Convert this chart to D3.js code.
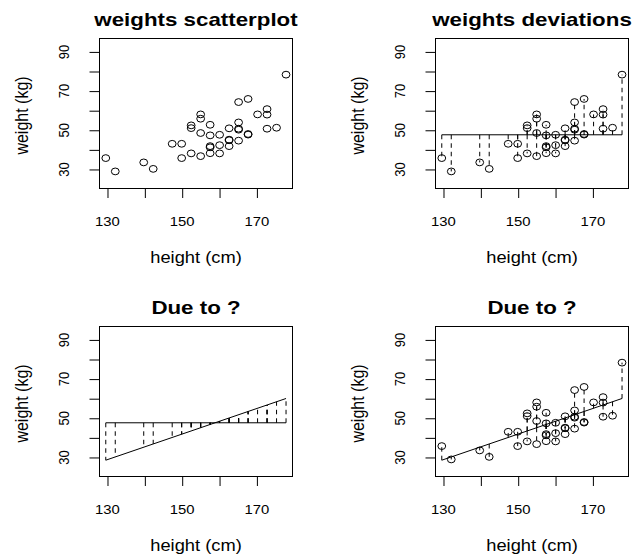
<!DOCTYPE html>
<html>
<head>
<meta charset="utf-8">
<title>weights</title>
<script src="https://d3js.org/d3.v7.min.js"></script>
<style>
  body, html { margin: 0; padding: 0; background: #fff; overflow: hidden; }
  svg { display: block; background: #fff; }
  text { font-family: "Liberation Sans", Arial, Helvetica, sans-serif; fill: #000; }
</style>
</head>
<body>
<svg id="chart" width="634" height="554"></svg>
<script>
var heights = [129.54, 132.08, 139.70, 142.24, 147.32, 149.86, 149.86, 152.40, 152.40, 152.40,
               154.94, 154.94, 154.94, 154.94, 157.48, 157.48, 157.48, 157.48, 157.48, 160.02,
               160.02, 160.02, 162.56, 162.56, 162.56, 162.56, 165.10, 165.10, 165.10, 165.10,
               165.10, 167.64, 167.64, 167.64, 170.18, 172.72, 172.72, 172.72, 175.26, 177.80];
var weights = [35.8, 29.0, 33.6, 30.3, 43.1, 43.1, 35.8, 38.2, 52.5, 51.1,
               58.1, 55.9, 48.6, 36.8, 52.8, 47.4, 41.9, 41.3, 38.3, 47.7,
               42.4, 38.2, 51.0, 45.2, 44.9, 41.9, 64.4, 54.0, 50.8, 50.3,
               44.7, 66.0, 48.1, 47.8, 58.1, 60.8, 58.0, 50.8, 51.3, 78.4];

// mean weight and the ends of the fitted line
var meanWeight = 47.7;
var fitHeights = [129.54, 177.80];
var fitWeights = [28.6, 60.1];

var xTicks = [130, 140, 150, 160, 170];
var xTickLabels = ["130", "", "150", "", "170"];
var yTicks = [30, 40, 50, 60, 70, 80, 90];
var yTickLabels = ["30", "", "50", "", "70", "", "90"];
var titles = ["weights scatterplot", "weights deviations", "Due to ?", "Due to ?"];
var xLabel = "height (cm)";
var yLabel = "weight (kg)";

var SX = 1.144;      // picture is stretched sideways a bit
var TITLE_SX = 1.24;
var svg = d3.select("#chart");

var panels = [
  {left: 99.5, top: 38.5},
  {left: 435.5, top: 38.5},
  {left: 99.5, top: 326.5},
  {left: 435.5, top: 326.5}
];
var pw = 193, ph = 150;

var fit = d3.scaleLinear().domain(fitHeights).range(fitWeights);

// horizontal text, squeezed the same way as the picture
function hText(g, x, y, str, size, bold, sx) {
  return g.append("text")
    .attr("transform", "translate(" + x + "," + y + ") scale(" + sx + ",1)")
    .attr("text-anchor", "middle")
    .style("font-size", size + "px")
    .style("font-weight", bold ? "bold" : "normal")
    .text(str);
}
function vText(g, x, y, str, size) {
  return g.append("text")
    .attr("transform", "translate(" + x + "," + y + ") scale(" + SX + ",1) rotate(-90)")
    .attr("text-anchor", "middle")
    .style("font-size", size + "px")
    .text(str);
}

panels.forEach(function(p, i) {
  var x = d3.scaleLinear().domain([127.86, 179.53]).range([p.left, p.left + pw]);
  var y = d3.scaleLinear().domain([20.28, 96.85]).range([p.top + ph, p.top]);
  var g = svg.append("g");
  var hmin = d3.min(heights), hmax = d3.max(heights);

  // dashed segments
  var segs = [];
  if (i == 1) segs = heights.map(function(h, k) { return [h, meanWeight, weights[k]]; });
  if (i == 2) segs = heights.map(function(h) { return [h, meanWeight, fit(h)]; });
  if (i == 3) segs = heights.map(function(h, k) { return [h, fit(h), weights[k]]; });
  g.selectAll("line.seg").data(segs).join("line")
    .attr("class", "seg")
    .attr("x1", function(d) { return x(d[0]); })
    .attr("x2", function(d) { return x(d[0]); })
    .attr("y1", function(d) { return y(d[1]); })
    .attr("y2", function(d) { return y(d[2]); })
    .attr("stroke", "#000")
    .attr("stroke-width", 1)
    .attr("stroke-dasharray", "4.5,4");

  // mean line
  if (i == 1 || i == 2) {
    g.append("line")
      .attr("x1", x(hmin)).attr("x2", x(hmax))
      .attr("y1", y(meanWeight)).attr("y2", y(meanWeight))
      .attr("stroke", "#000");
  }
  // fitted line
  if (i == 2 || i == 3) {
    g.append("line")
      .attr("x1", x(fitHeights[0])).attr("x2", x(fitHeights[1]))
      .attr("y1", y(fitWeights[0])).attr("y2", y(fitWeights[1]))
      .attr("stroke", "#000");
  }

  // points
  if (i != 2) {
    g.selectAll("ellipse").data(heights).join("ellipse")
      .attr("cx", function(d) { return x(d); })
      .attr("cy", function(d, k) { return y(weights[k]); })
      .attr("rx", 3.9)
      .attr("ry", 3.4)
      .attr("fill", "none")
      .attr("stroke", "#000")
      .attr("stroke-width", 1);
  }

  // box
  g.append("rect")
    .attr("x", p.left).attr("y", p.top)
    .attr("width", pw).attr("height", ph)
    .attr("fill", "none").attr("stroke", "#000");

  // axes (ticks only, labels drawn below)
  g.append("g")
    .attr("transform", "translate(0," + (p.top + ph - 0.5) + ")")
    .call(d3.axisBottom(x).tickValues(xTicks).tickSize(10).tickFormat(""))
    .call(function(a) { a.select(".domain").remove(); });
  g.append("g")
    .attr("transform", "translate(" + (p.left + 0.5) + ",0)")
    .call(d3.axisLeft(y).tickValues(yTicks).tickSize(10.5).tickFormat(""))
    .call(function(a) { a.select(".domain").remove(); });

  xTicks.forEach(function(t, k) {
    if (xTickLabels[k]) hText(g, x(t), p.top + ph + 37, xTickLabels[k], 13, false, SX);
  });
  yTicks.forEach(function(t, k) {
    if (yTickLabels[k]) vText(g, p.left - 31, y(t), yTickLabels[k], 13);
  });

  var cx = p.left + pw / 2;
  hText(g, cx, p.top - 12.5, titles[i], 18, true, TITLE_SX);
  hText(g, cx, p.top + ph + 74, xLabel, 16, false, SX);
  vText(g, p.left - 71.3, p.top + ph / 2 + 2, yLabel, 16);
});
</script>
</body>
</html>
